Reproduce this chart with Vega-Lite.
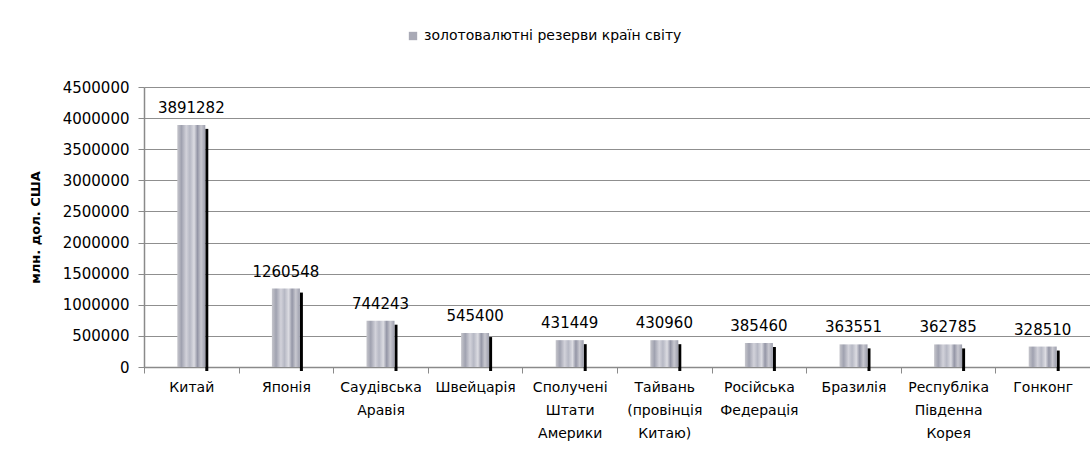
{
  "$schema": "https://vega.github.io/schema/vega-lite/v6.json",
  "width": 946,
  "height": 280,
  "autosize": {"type": "none"},
  "padding": {"left": 144, "top": 87, "right": 0, "bottom": 92},
  "background": "white",
  "config": {
    "view": {"stroke": null},
    "font": "DejaVu Sans",
    "axis": {"labelFont": "DejaVu Sans", "labelFontSize": 15, "labelColor": "#000000", "domainColor": "#8a8a8a", "tickColor": "#8a8a8a", "gridColor": "#8f8f8f", "domainWidth": 1.5}
  },
  "data": {
    "values": [
      {"country": "Китай", "value": 3891282},
      {"country": "Японія", "value": 1260548},
      {"country": "Саудівська|Аравія", "value": 744243},
      {"country": "Швейцарія", "value": 545400},
      {"country": "Сполучені|Штати|Америки", "value": 431449},
      {"country": "Тайвань|(провінція|Китаю)", "value": 430960},
      {"country": "Російська|Федерація", "value": 385460},
      {"country": "Бразилія", "value": 363551},
      {"country": "Республіка|Південна|Корея", "value": 362785},
      {"country": "Гонконг", "value": 328510}
    ]
  },
  "encoding": {
    "x": {
      "field": "country", "type": "nominal", "sort": null,
      "scale": {"paddingInner": 0, "paddingOuter": 0},
      "axis": {"title": null, "labelAngle": 0, "labelExpr": "isString(datum.value) ? split(datum.value, '|') : ''", "labelLineHeight": 23, "labelPadding": 7, "labelBaseline": "top", "tickBand": "extent", "tickSize": 6, "labelOverlap": false, "labelLimit": 0, "labelFontSize": 14}
    },
    "y": {
      "field": "value", "type": "quantitative",
      "scale": {"domain": [0, 4500000]},
      "axis": {"title": "млн. дол. США", "titleFontSize": 13, "titleFontWeight": "bold", "titleColor": "#000000", "titlePadding": 20, "values": [0, 500000, 1000000, 1500000, 2000000, 2500000, 3000000, 3500000, 4000000, 4500000], "format": "d", "tickSize": 6, "labelPadding": 9, "grid": true}
    }
  },
  "layer": [
    {
      "mark": {"type": "bar", "width": 3, "xOffset": 15.5, "yOffset": 4, "color": "#000000"}
    },
    {
      "mark": {"type": "bar", "width": 28, "color": {"gradient": "linear", "x1": 0, "y1": 0, "x2": 1, "y2": 0, "stops": [
            {"offset": 0, "color": "#c6c6cc"},
            {"offset": 0.15, "color": "#a0a2b0"},
            {"offset": 0.32, "color": "#d2d2da"},
            {"offset": 0.45, "color": "#b6b8c4"},
            {"offset": 0.6, "color": "#dcdce2"},
            {"offset": 0.72, "color": "#9496a6"},
            {"offset": 0.85, "color": "#c8c8d0"},
            {"offset": 1, "color": "#9c9eac"}
          ]}}
    },
    {
      "mark": {"type": "point", "shape": "square", "filled": true, "size": 0},
      "encoding": {
        "color": {
          "datum": "золотовалютні резерви країн світу",
          "type": "nominal",
          "scale": {"range": ["#a9aab6"]},
          "legend": {"title": null, "orient": "none", "legendX": 262, "legendY": -58, "direction": "horizontal", "symbolType": "square", "symbolSize": 70, "symbolOpacity": 1, "symbolStrokeWidth": 0, "labelFont": "DejaVu Sans", "labelFontSize": 14, "labelLimit": 0, "labelColor": "#000000"}
        }
      }
    },
    {
      "mark": {"type": "text", "baseline": "alphabetic", "dy": -12, "fontSize": 15, "font": "DejaVu Sans", "color": "#000000"},
      "encoding": {"text": {"field": "value", "type": "quantitative", "format": "d"}}
    }
  ]
}
